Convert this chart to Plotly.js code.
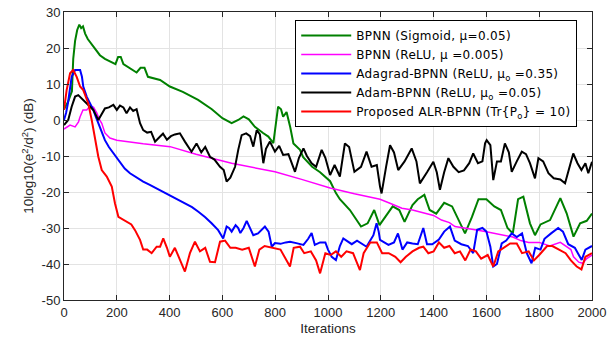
<!DOCTYPE html>
<html>
<head>
<meta charset="utf-8">
<script src="https://cdn.plot.ly/plotly-3.0.1.min.js"></script>
<style>html,body{margin:0;padding:0;background:#fff;}#chart{width:607px;height:339px;}
.legendtext{letter-spacing:0.35px;}</style>
</head>
<body>
<div id="chart"></div>
<script>
// ---- Data ----
const seriesNames = [
  "BPNN (Sigmoid, μ=0.05)",
  "BPNN (ReLU, μ =0.005)",
  "Adagrad-BPNN (ReLU, μ<sub>o</sub> =0.35)",
  "Adam-BPNN (ReLU, μ<sub>o</sub> =0.05)",
  "Proposed ALR-BPNN (Tr{P<sub>o</sub>} = 10)"
];

const greenX = [0,15,30,35,42,50,58,65,72,80,90,100,115,136,155,174,195,205,215,225,240,260,275,290,305,318,340,364,401,450,508,560,600,635,660,680,700,723,754,774,793,800,811,822,830,843,857,869,894,906,940,970,1008,1030,1045,1083,1110,1125,1150,1175,1195,1225,1245,1270,1290,1320,1340,1365,1385,1410,1440,1470,1495,1519,1545,1570,1600,1630,1655,1680,1700,1720,1740,1765,1784,1805,1841,1870,1880,1904,1930,1955,1980,2000];
const greenY = [3,5,8,17,22,25,26.5,25.5,26,24,22.5,21.5,20,18,17,16.2,15.5,17.5,17.5,15.5,14.8,13.8,13.2,14.5,14.5,12,11.5,11.1,9.3,7.8,5.6,3,0.5,-0.9,0,1,0.2,-1.9,-3.6,-4.6,-6.4,-2,3.7,3,0.9,2.2,-2,-6.5,-8.3,-10.3,-13,-14.5,-17,-20.3,-22,-25,-28,-29.6,-28.7,-25,-29.2,-26,-24,-25,-28.3,-23.6,-22,-20.8,-25,-26,-23,-24,-28,-31.5,-27,-22,-22,-24,-25,-30,-31.5,-22,-21.3,-28.7,-32,-29,-27.8,-23,-21.7,-25.9,-32.4,-28.7,-28,-26];

const magentaX = [0,10,23,42,55,61,72,86,100,112,124,135,143,155,174,200,237,300,402,500,635,700,799,900,1008,1100,1197,1230,1260,1280,1320,1367,1400,1430,1460,1481,1520,1557,1595,1630,1660,1700,1730,1760,1800,1840,1880,1904,1920,1930,1950,1965,1980,2000];
const magentaY = [-2.5,-2,-1.4,-1.9,-0.5,0.9,2.8,2.8,4,3.5,2,0,-0.9,-3.6,-5,-5.6,-6,-6.6,-7.4,-9.5,-12,-13,-14.4,-16.5,-18.9,-20.5,-22,-23,-23.8,-24.5,-25,-25.9,-26.5,-27.8,-28.5,-29.6,-30,-30.5,-31,-31.5,-32,-32.5,-33.5,-34,-34,-35,-34,-35.2,-36,-38,-39.5,-39.8,-38.5,-37.5];

const blueX = [0,8,15,22,29,42,61,68,73,86,100,111,120,130,143,155,170,187,212,230,250,275,300,325,351,375,401,430,458,485,509,535,559,584,603,610,616,625,635,650,660,668,680,692,705,717,735,750,761,775,787,799,820,840,856,880,907,925,938,950,970,990,1000,1014,1030,1045,1058,1070,1090,1110,1130,1146,1160,1172,1184,1192,1197,1229,1250,1265,1282,1300,1320,1340,1361,1375,1395,1420,1440,1462,1480,1505,1530,1550,1565,1585,1600,1615,1626,1640,1658,1675,1696,1715,1735,1753,1771,1785,1805,1820,1845,1872,1890,1910,1935,1961,1975,2000];
const blueY = [0,2,4.7,9,12,13.9,13.9,12,9.3,6.5,4.5,2.8,1,-0.9,-2.8,-5.6,-7.5,-9.2,-12,-13.5,-14.8,-16,-17.1,-18,-19,-19.8,-20.8,-22,-23.1,-24.2,-25.5,-27,-28.7,-30.6,-32.9,-31,-29.6,-30,-31,-29.2,-30,-31.4,-30,-28,-30,-32,-31.5,-30.5,-29.6,-31,-35.2,-34.2,-34.4,-34,-33.8,-34.2,-34.7,-33,-31.4,-34.7,-34,-34,-36,-38,-38.9,-35,-32.9,-33.5,-34.5,-33.5,-34.5,-35.2,-33.5,-32,-28.7,-31,-33.3,-34.7,-34,-31.5,-36,-34,-34.3,-34.5,-30,-34.5,-34.5,-33.2,-31,-29.6,-33.5,-34.5,-35,-37,-30.5,-30,-31,-35.2,-40.7,-40,-34.3,-33.5,-31.5,-32.5,-31.5,-37,-39.8,-35.5,-36,-33,-31.5,-30,-31,-34.5,-35.5,-38.9,-36,-35];

const blackX = [0,16,29,42,54,73,90,111,130,143,155,170,187,200,212,225,237,250,262,275,288,300,315,330,345,364,375,390,405,420,439,458,483,502,520,535,553,570,591,605,616,630,648,660,673,690,705,717,730,742,755,765,780,799,815,830,850,875,890,907,920,938,955,976,990,1008,1025,1045,1064,1080,1100,1125,1146,1165,1185,1197,1203,1220,1235,1250,1266,1290,1317,1335,1348,1375,1399,1412,1424,1440,1456,1475,1495,1515,1535,1550,1568,1585,1595,1601,1615,1626,1640,1655,1670,1685,1696,1715,1734,1750,1765,1784,1797,1815,1835,1855,1880,1898,1915,1929,1945,1960,1975,1986,2000];
const blackY = [-1.4,0,3.7,6.5,6.9,5.6,4.2,2.8,0,1.9,3.2,3.5,4.2,2.8,4,3.5,1.9,3.5,2.5,3,-0.9,-2.8,-3.5,-3.3,-6,-4.6,-3.8,-5.5,-4.5,-4,-3.7,-6,-8.8,-6.5,-9,-7.5,-10.2,-11,-13,-13.9,-17.1,-16,-13,-8.3,-4.2,-3.7,-4.5,-7.4,-2.8,-4,-12,-8,-6,-8.8,-7.2,-9.7,-9.5,-14.4,-10.5,-7.9,-10,-12,-13,-8.3,-10.5,-15.3,-12.5,-15.7,-6.5,-7.5,-14.4,-13,-8.8,-13,-12.5,-18.5,-20.4,-13,-7,-9,-13.9,-11.5,-7.9,-11.5,-17.6,-14.5,-11.6,-14.5,-19.4,-14.5,-10.6,-13,-14.5,-14,-12,-9.3,-12,-11.5,-6.5,-5.6,-7,-16.7,-11.5,-11.5,-6.5,-9,-14.4,-11.5,-8.8,-9.5,-12,-16.2,-10.6,-11.5,-14.8,-16.2,-16.5,-17.6,-13,-9.3,-12,-13.9,-12,-14.8,-11.6];

const redX = [0,10,23,35,48,61,73,92,105,117,130,143,162,181,193,206,220,237,255,269,288,300,315,332,351,364,376,390,401,420,439,458,477,496,515,535,553,572,591,610,630,650,675,700,723,740,760,785,820,856,870,894,910,935,955,970,990,1010,1030,1050,1070,1095,1121,1135,1160,1185,1205,1230,1255,1275,1295,1320,1345,1361,1380,1400,1420,1440,1460,1480,1500,1520,1540,1560,1580,1605,1626,1645,1665,1690,1715,1735,1760,1780,1800,1830,1850,1875,1900,1920,1942,1960,1975,2000];
const redY = [2.8,8.3,13,13.9,12,9.3,8.3,4.6,0,-4.6,-10.2,-13.9,-15.7,-18.5,-23.1,-26.9,-27.5,-28.3,-29,-30.6,-33.3,-36,-36,-37,-35.2,-35.2,-32.9,-35.5,-38,-35.5,-38.9,-42.1,-37,-33.8,-36.5,-35.5,-39.4,-39.5,-33.8,-33.5,-35.5,-35.5,-36,-35.5,-40.7,-36,-35,-35.5,-36,-40.7,-35.5,-35.2,-37,-36.5,-39,-42.6,-37,-37.5,-36.5,-38,-36.5,-37,-41.7,-37,-34,-34,-37,-37,-38,-39.5,-38,-36.5,-35.5,-35.2,-37,-36.5,-34,-35.5,-35,-37,-36.5,-39,-36,-36.5,-38.5,-37.5,-40.7,-36.5,-35.5,-34.3,-34.3,-37,-36.5,-39,-37.5,-35,-35,-36,-37,-39,-40.7,-41.5,-38,-37];

const xTicks = [0,200,400,600,800,1000,1200,1400,1600,1800,2000];
const yTicks = [30,20,10,0,-10,-20,-30,-40,-50];

// ---- Traces ----
const colors = ["rgb(0,128,0)","rgb(255,0,255)","rgb(0,0,255)","rgb(0,0,0)","rgb(255,0,0)"];
const widths = [2,1.5,2,2,2];
const xs = [greenX, magentaX, blueX, blackX, redX];
const ys = [greenY, magentaY, blueY, blackY, redY];
const traces = seriesNames.map((n,i)=>({
  type:"scatter", mode:"lines", name:n, x:xs[i], y:ys[i],
  line:{color:colors[i], width:widths[i]}
}));

const fontFam = "Liberation Sans, Arial, sans-serif";
const layout = {
  width:607, height:339,
  margin:{l:64, r:15, t:12, b:39},
  paper_bgcolor:"#fff", plot_bgcolor:"#fff",
  font:{family:fontFam, size:13, color:"#262626"},
  showlegend:true,
  legend:{
    x:0.972, y:0.972, xanchor:"right", yanchor:"top",
    bgcolor:"#fff", bordercolor:"#000", borderwidth:1,
    font:{family:"DejaVu Sans, sans-serif", size:12, color:"#000"},
    itemwidth:50, tracegroupgap:0
  },
  xaxis:{
    range:[0,2000], tickvals:xTicks, ticktext:xTicks.map(String),
    showgrid:true, gridcolor:"#e3e3e3", gridwidth:1,
    showline:true, linecolor:"#262626", linewidth:1, mirror:"ticks",
    ticks:"inside", ticklen:5, tickcolor:"#262626",
    zeroline:false,
    title:{text:"Iterations", font:{family:fontFam, size:13.5, color:"#262626"}, standoff:4}
  },
  yaxis:{
    range:[-50,30], tickvals:yTicks, ticktext:yTicks.map(String),
    showgrid:true, gridcolor:"#e3e3e3", gridwidth:1,
    showline:true, linecolor:"#262626", linewidth:1, mirror:"ticks",
    ticks:"inside", ticklen:5, tickcolor:"#262626",
    zeroline:false,
    title:{text:"10log10(e<sup>2</sup>/d<sup>2</sup>) (dB)", font:{family:fontFam, size:13.5, color:"#262626"}, standoff:4}
  }
};

Plotly.newPlot("chart", traces, layout, {displayModeBar:false, staticPlot:true});
</script>
</body>
</html>
